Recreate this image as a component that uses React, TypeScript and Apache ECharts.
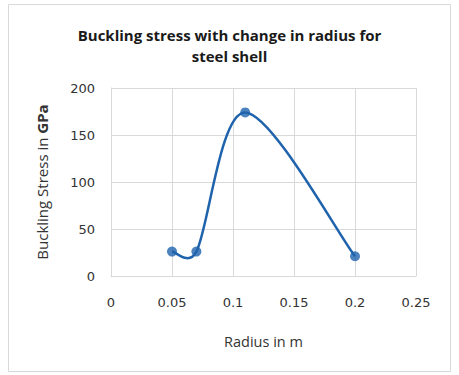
import React, { useEffect, useRef } from "react";
import * as echarts from "echarts";

const radius = [0.05, 0.07, 0.11, 0.2];
const stress = [26, 26, 174, 21];
const xTicks = [0, 0.05, 0.1, 0.15, 0.2, 0.25];
const yTicks = [0, 50, 100, 150, 200];

const BLUE = "#1f63ad";

export default function App() {
  const ref = useRef<HTMLDivElement>(null);
  useEffect(() => {
    const chart = echarts.init(ref.current!, null, { renderer: "svg" });
    const data = radius.map((r, i) => [r, stress[i]]);
    const n = data.length;
    const k = 1 / 6;
    const dist = (a: number[], b: number[]) => Math.hypot(a[0] - b[0], a[1] - b[1]);
    chart.setOption({
      animation: false,
      backgroundColor: "#ffffff",
      graphic: [
        {
          type: "rect",
          shape: { x: 8.5, y: 4.5, width: 442, height: 367 },
          style: { fill: "none", stroke: "#d9d9d9", lineWidth: 1 },
        },
      ],
      title: {
        text: "Buckling stress with change in radius for\nsteel shell",
        left: "center",
        top: 19,
        textStyle: {
          fontFamily: "Open Sans",
          fontWeight: "bold",
          fontSize: 15,
          lineHeight: 21,
          color: "#1a1a1a",
        },
      },
      grid: { left: 111, right: 43, top: 88, bottom: 99 },
      xAxis: {
        type: "value",
        min: xTicks[0],
        max: xTicks[xTicks.length - 1],
        interval: 0.05,
        name: "Radius in m",
        nameLocation: "middle",
        nameGap: 58,
        nameTextStyle: { fontFamily: "Open Sans", fontSize: 14.5, color: "#333" },
        axisLine: { show: true, lineStyle: { color: "#d9d9d9" } },
        axisTick: { show: false },
        splitLine: { show: true, lineStyle: { color: "#d9d9d9" } },
        axisLabel: {
          margin: 20,
          fontFamily: "DejaVu Sans",
          fontSize: 13,
          color: "#333",
          formatter: (v: number) => String(Math.round(v * 100) / 100),
        },
      },
      yAxis: {
        type: "value",
        min: yTicks[0],
        max: yTicks[yTicks.length - 1],
        interval: 50,
        name: "{n|Buckling Stress in }{b|GPa}",
        nameLocation: "middle",
        nameGap: 62,
        nameRotate: 90,
        nameTextStyle: {
          rich: {
            n: { fontFamily: "Open Sans", fontSize: 15, color: "#333" },
            b: { fontFamily: "Open Sans", fontSize: 15, fontWeight: "bold", color: "#333" },
          },
        },
        axisLine: { show: true, lineStyle: { color: "#d9d9d9" } },
        axisTick: { show: false },
        splitLine: { show: true, lineStyle: { color: "#d9d9d9" } },
        axisLabel: {
          margin: 16,
          fontFamily: "DejaVu Sans",
          fontSize: 13,
          color: "#333",
        },
      },
      series: [
        {
          type: "custom",
          data,
          encode: { x: 0, y: 1 },
          renderItem: (params: any, api: any) => {
            const i = params.dataIndex;
            if (i >= n - 1) return null;
            const p = data.map((d) => api.coord(d));
            const p0 = p[Math.max(i - 1, 0)];
            const p1 = p[i];
            const p2 = p[i + 1];
            const p3 = p[Math.min(i + 2, n - 1)];
            const seg = dist(p1, p2);
            const prevSeg = dist(p0, p1);
            const nextSeg = dist(p2, p3);
            const f1 = prevSeg > 0 ? Math.min(1, Math.pow(seg / prevSeg, 0.25)) : 1;
            const f2 = nextSeg > 0 ? Math.min(1, Math.pow(seg / nextSeg, 0.25)) : 1;
            return {
              type: "bezierCurve",
              shape: {
                x1: p1[0],
                y1: p1[1],
                cpx1: p1[0] + (p2[0] - p0[0]) * k * f1,
                cpy1: p1[1] + (p2[1] - p0[1]) * k * f1,
                cpx2: p2[0] - (p3[0] - p1[0]) * k * f2,
                cpy2: p2[1] - (p3[1] - p1[1]) * k * f2,
                x2: p2[0],
                y2: p2[1],
              },
              style: { stroke: BLUE, lineWidth: 2.5, fill: "none" },
            };
          },
          z: 2,
        },
        {
          type: "scatter",
          data,
          symbol: "circle",
          symbolSize: 10,
          itemStyle: { color: BLUE },
          z: 3,
        },
      ],
    });
    return () => chart.dispose();
  }, []);
  return (
    <div
      ref={ref}
      style={{ position: "fixed", left: 0, top: 0, width: 459, height: 375 }}
    />
  );
}
